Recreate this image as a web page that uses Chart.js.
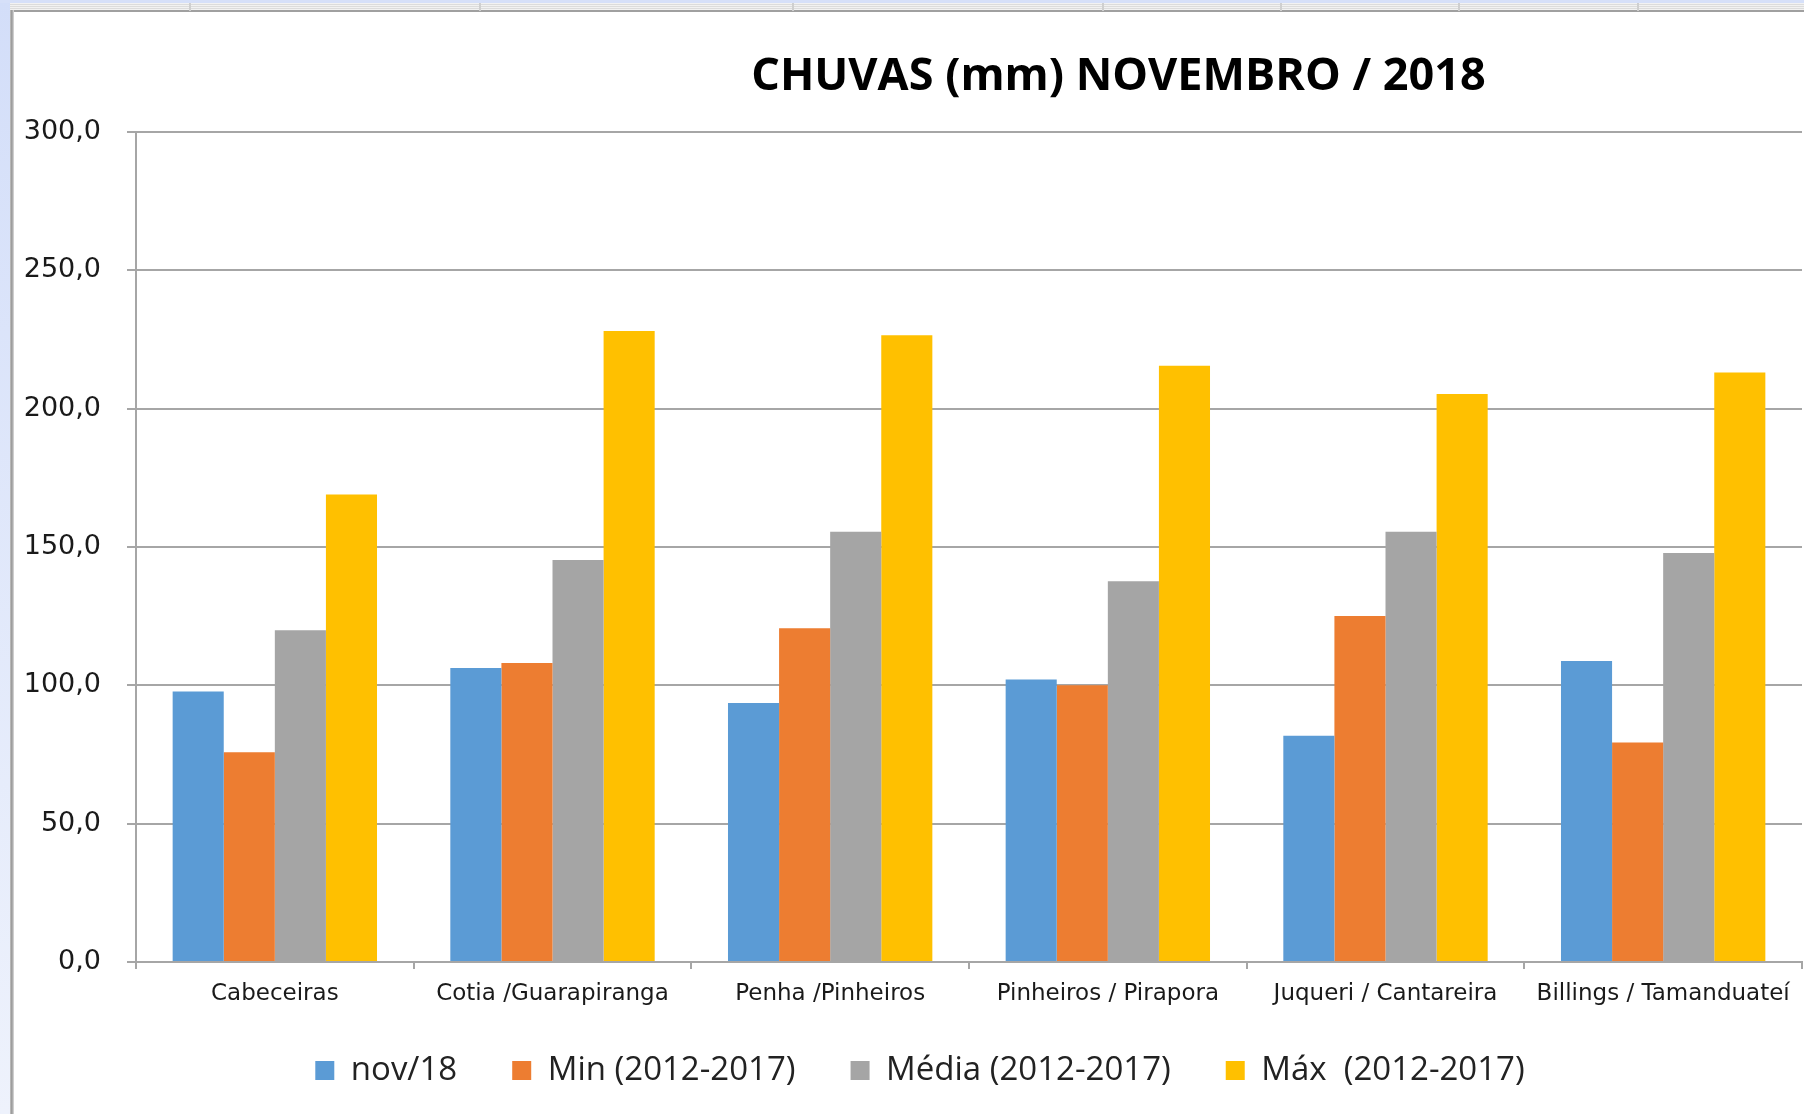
<!DOCTYPE html>
<html>
<head>
<meta charset="utf-8">
<script src="https://cdn.jsdelivr.net/npm/chart.js@4/dist/chart.umd.min.js"></script>
<style>
  html, body { margin: 0; padding: 0; width: 1804px; height: 1114px; overflow: hidden; background: #ffffff; }
  #leftband { position: absolute; left: 0; top: 0; width: 10px; height: 1114px; background: linear-gradient(#d3def9, #eef2fc); }
  #leftborder { position: absolute; left: 10px; top: 10px; width: 4px; height: 1104px; background: linear-gradient(to right, #c8c8c8, #9a9a9a, #b0b0b0, #e0e0e0); }
  #topband { position: absolute; left: 0; top: 0; width: 1804px; height: 3px; background: #d6e0f9; }
  #topgrid { position: absolute; left: 10px; top: 3px; width: 1794px; height: 7px; background: repeating-linear-gradient(#f2f2f2 0px, #f2f2f2 1px, #dcdcdc 1px, #dcdcdc 2px); }
  #topborder { position: absolute; left: 10px; top: 10px; width: 1794px; height: 2px; background: #a0a0a0; }
  .sep { position: absolute; top: 3px; width: 2px; height: 8px; background: #cfcfcf; }
  #wrap { position: absolute; left: 14px; top: 12px; width: 1790px; height: 1102px; }
</style>
</head>
<body>
<div id="leftband"></div>
<div id="topband"></div>
<div id="topgrid"></div>
<div id="topborder"></div>
<div id="leftborder"></div>
<div class="sep" style="left:189px"></div>
<div class="sep" style="left:479px"></div>
<div class="sep" style="left:792px"></div>
<div class="sep" style="left:1102px"></div>
<div class="sep" style="left:1280px"></div>
<div class="sep" style="left:1458px"></div>
<div class="sep" style="left:1637px"></div>
<div id="wrap"><canvas id="c"></canvas></div>
<script>
const TITLE = 'CHUVAS (mm) NOVEMBRO / 2018';
const categories = ['Cabeceiras', 'Cotia /Guarapiranga', 'Penha /Pinheiros', 'Pinheiros / Pirapora', 'Juqueri / Cantareira', 'Billings / Tamanduateí'];
const seriesNames = ['nov/18', 'Min (2012-2017)', 'Média (2012-2017)', 'Máx  (2012-2017)'];
const nov18 = [97.8, 106.3, 93.6, 102.1, 81.8, 108.8];
const minVals = [75.8, 108.1, 120.6, 100.0, 125.1, 79.3];
const mediaVals = [119.9, 145.3, 155.5, 137.6, 155.5, 147.8];
const maxVals = [169.0, 228.1, 226.5, 215.5, 205.3, 213.1];
const yMin = 0, yMax = 300, yStep = 50;

const colors = ['#5b9bd5', '#ed7d31', '#a5a5a5', '#ffc000'];
const allSeries = [nov18, minVals, mediaVals, maxVals];

const titlePlugin = {
  id: 'offsetTitle',
  afterDraw(chart) {
    const ctx = chart.ctx;
    ctx.save();
    ctx.font = 'bold 45px "Open Sans"';
    ctx.fillStyle = '#000000';
    ctx.textAlign = 'center';
    ctx.textBaseline = 'middle';
    ctx.fillText(TITLE, chart.width * 0.617, 65);
    ctx.restore();
  }
};

// nudge the legend box to where the original placed it
const legendShift = {
  id: 'legendShift',
  afterLayout(chart) {
    const lg = chart.legend;
    if (!lg) return;
    lg.left += 12; lg.right += 12;
    lg.top -= 13; lg.bottom -= 13;
  }
};

new Chart(document.getElementById('c'), {
  type: 'bar',
  data: {
    labels: categories,
    datasets: allSeries.map((vals, i) => ({
      label: seriesNames[i],
      data: vals,
      backgroundColor: colors[i],
      borderWidth: 0,
      categoryPercentage: 0.736,
      barPercentage: 1.0
    }))
  },
  options: {
    responsive: true,
    maintainAspectRatio: false,
    animation: false,
    layout: { padding: { top: 120, right: 2, left: 0, bottom: 4 } },
    plugins: {
      title: { display: false },
      tooltip: { enabled: false },
      legend: {
        position: 'bottom',
        labels: {
          font: { family: '"Open Sans"', size: 33 },
          color: '#222222',
          boxWidth: 19,
          boxHeight: 19,
          padding: 55
        }
      }
    },
    scales: {
      x: {
        grid: { display: true, drawOnChartArea: false, drawTicks: true, tickLength: 7, color: '#a6a6a6', lineWidth: 2, offset: true },
        border: { display: true, color: '#a6a6a6', width: 2 },
        ticks: { font: { family: '"DejaVu Sans"', size: 23, lineHeight: 1.0 }, color: '#1a1a1a', padding: 14, autoSkip: false, maxRotation: 0, minRotation: 0 },
        afterFit(scale) { scale.height = 50; }
      },
      y: {
        min: yMin,
        max: yMax,
        grid: { color: '#a6a6a6', lineWidth: 2, drawTicks: true, tickLength: 9 },
        border: { display: true, color: '#a6a6a6', width: 2 },
        ticks: {
          stepSize: yStep,
          padding: 26,
          font: { family: '"DejaVu Sans"', size: 27 },
          color: '#1a1a1a',
          callback: v => v.toFixed(1).replace('.', ',')
        },
        afterFit(scale) { scale.width = 122; }
      }
    }
  },
  plugins: [titlePlugin, legendShift]
});
</script>
</body>
</html>
